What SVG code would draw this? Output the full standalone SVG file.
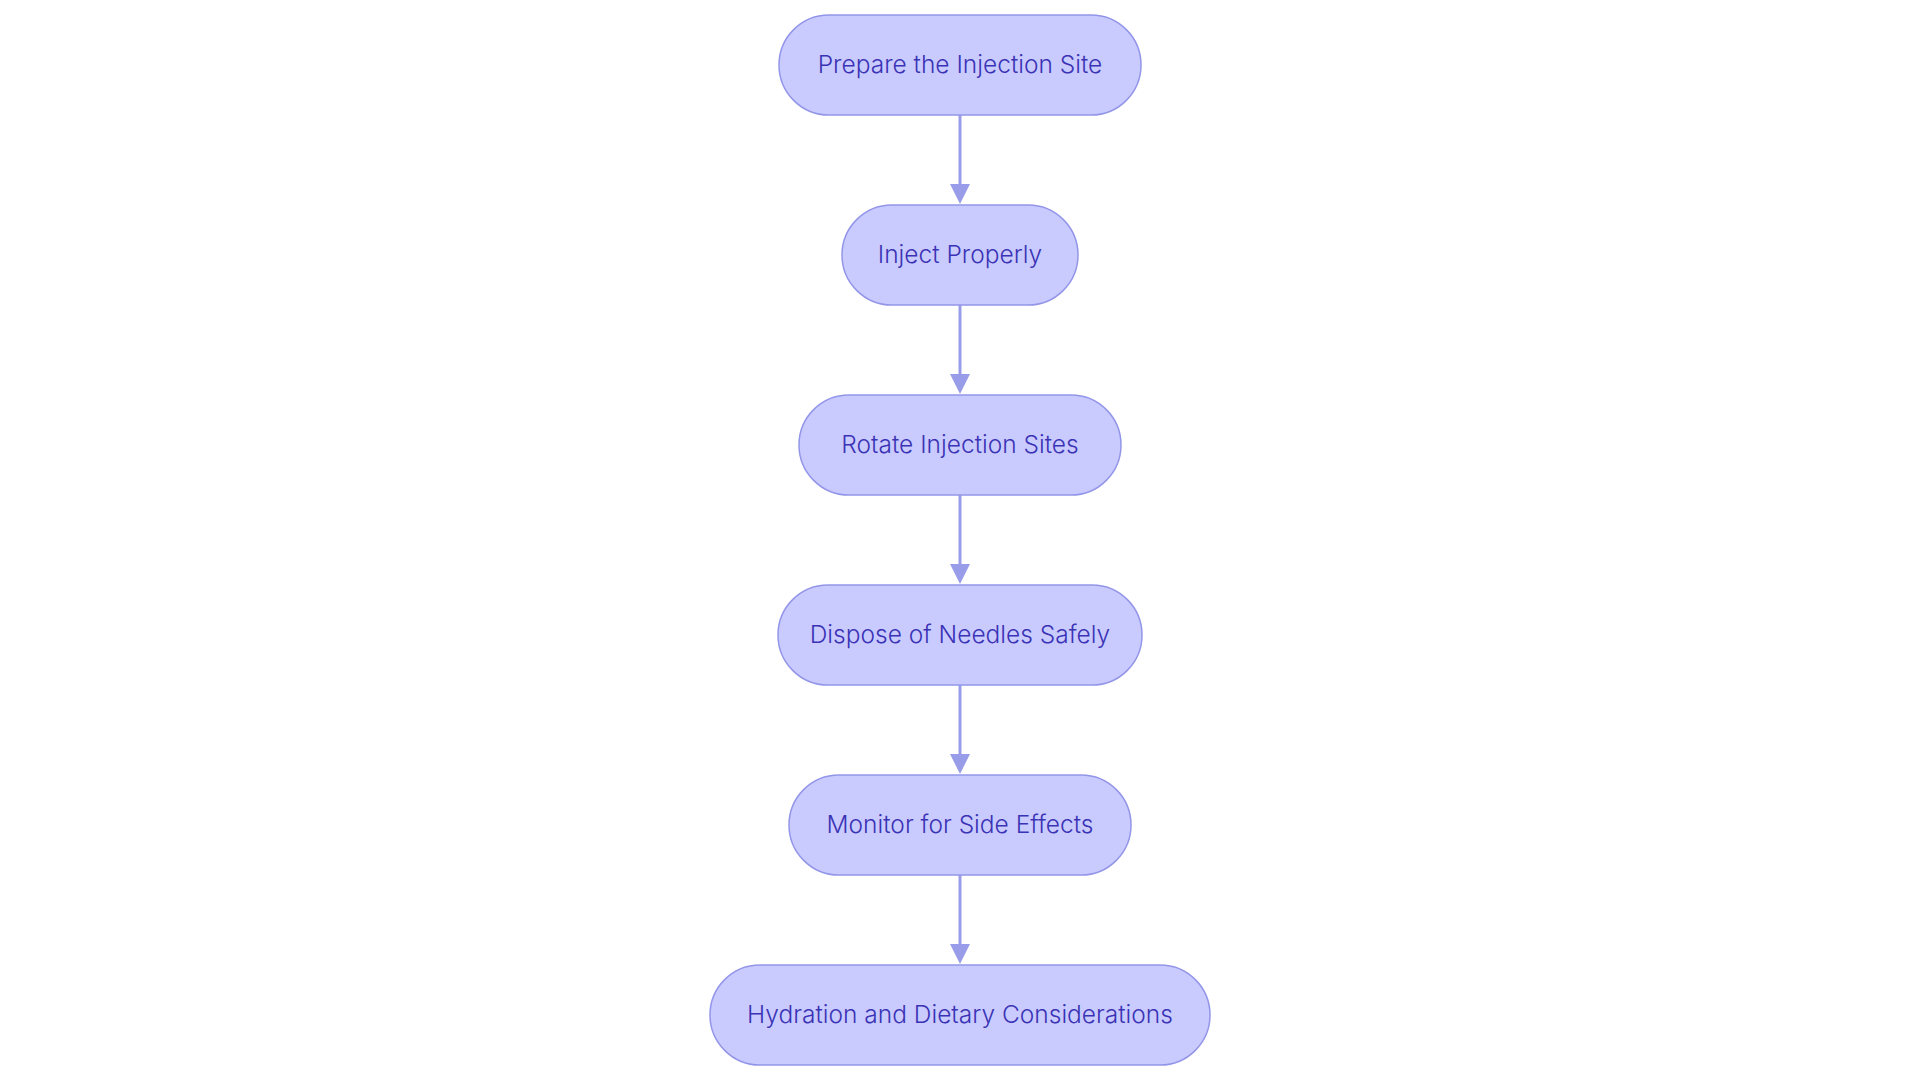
<svg xmlns="http://www.w3.org/2000/svg" width="1920" height="1083" viewBox="0 0 1920 1083">
<defs>
<style>
.n rect{fill:#c9cbff;stroke:#9396e8;stroke-width:1.5}
.n text{font-family:Inter,"Noto Sans",sans-serif;font-size:24.5px;font-weight:300;fill:#3b33b5;text-anchor:middle;dominant-baseline:central}
.c line{stroke:#999ce8;stroke-width:3}
.c path{fill:#999ce8}
</style>
</defs>
<rect width="1920" height="1083" fill="#fff"/>
<g class="c">
<line x1="960" y1="115" x2="960" y2="190"/><path d="M950,184 L960,204 L970,184 z"/>
<line x1="960" y1="305" x2="960" y2="380"/><path d="M950,374 L960,394 L970,374 z"/>
<line x1="960" y1="495" x2="960" y2="570"/><path d="M950,564 L960,584 L970,564 z"/>
<line x1="960" y1="685" x2="960" y2="760"/><path d="M950,754 L960,774 L970,754 z"/>
<line x1="960" y1="875" x2="960" y2="950"/><path d="M950,944 L960,964 L970,944 z"/>
</g>
<g id="n1" class="n"><rect x="779" y="15" width="362" height="100" rx="50"/><text x="960" y="64">Prepare the Injection Site</text></g>
<g id="n2" class="n"><rect x="842" y="205" width="236" height="100" rx="50"/><text x="960" y="254">Inject Properly</text></g>
<g id="n3" class="n"><rect x="799" y="395" width="322" height="100" rx="50"/><text x="960" y="444">Rotate Injection Sites</text></g>
<g id="n4" class="n"><rect x="778" y="585" width="364" height="100" rx="50"/><text x="960" y="634">Dispose of Needles Safely</text></g>
<g id="n5" class="n"><rect x="789" y="775" width="342" height="100" rx="50"/><text x="960" y="824">Monitor for Side Effects</text></g>
<g id="n6" class="n"><rect x="710" y="965" width="500" height="100" rx="50"/><text x="960" y="1014">Hydration and Dietary Considerations</text></g>
</svg>
